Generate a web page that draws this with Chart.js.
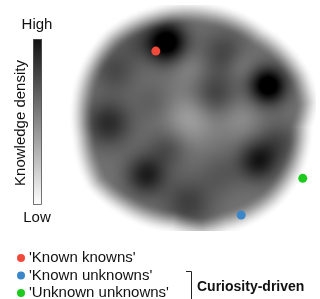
<!DOCTYPE html>
<html>
<head>
<title>Knowledge density</title>
<script src="https://cdn.jsdelivr.net/npm/chart.js"></script>
<style>
  html, body { margin: 0; padding: 0; background: #fff; overflow: hidden; }
</style>
</head>
<body>
<canvas id="knowledgeChart" width="320" height="299"></canvas>

<script>
    // the three example questions
    const pointLabels = ["'Known knowns'", "'Known unknowns'", "'Unknown unknowns'"];
    const pointX = [-0.36, 0.43, 1.0];
    const pointY = [0.65, -0.87, -0.53];
    const pointColors = ['#f24a3a', '#3b86c8', '#1fca1f'];

    // outline of the knowledge blob: radius at each angle (degrees)
    const edgeAngle = [9, 23, 53, 82, 110, 135, 159, 188, 212, 230, 258, 274, 287, 315, 335, 357];
    const edgeRadius = [1.06, 1.06, 0.99, 1.0, 1.03, 1.08, 1.07, 1.04, 1.07, 1.01, 0.95, 1.0, 0.98, 1.01, 1.01, 0.99];
    const baseDensity = 0.55;

    // dense (and sparse) patches inside the blob
    const spotX = [-0.26, 0.68, -0.80, -0.45, 0.59, 0.27, 0.18, -0.74, 0.78, -0.06, -0.25, -0.04, -0.38, 0.42, 0.24, -0.05, 0.43, -0.55];
    const spotY = [0.73, 0.33, -0.02, -0.50, -0.37, 0.63, 0.24, 0.47, -0.19, -0.76, -0.25, 0.02, 0.17, 0.02, -0.49, 0.50, 0.52, 0.72];
    const spotSize = [0.13, 0.12, 0.15, 0.13, 0.13, 0.15, 0.14, 0.14, 0.13, 0.16, 0.13, 0.17, 0.13, 0.13, 0.14, 0.12, 0.10, 0.12];
    const spotWeight = [0.55, 0.55, 0.28, 0.33, 0.35, 0.18, 0.2, 0.16, 0.15, 0.2, 0.15, -0.18, 0.08, -0.1, 0.1, -0.08, -0.08, 0.1];

    const colorbarLabels = ['High', 'Low'];
    const axisTitle = 'Knowledge density';
    const groupLabel = 'Curiosity-driven';

    const font = "'Liberation Sans', Arial, sans-serif";

    function edgeAt(deg) {
        const n = edgeAngle.length;
        let d = deg;
        if (d < edgeAngle[0]) d += 360;
        for (let i = 0; i < n; i++) {
            const a0 = edgeAngle[i];
            const a1 = i + 1 < n ? edgeAngle[i + 1] : edgeAngle[0] + 360;
            if (d >= a0 && d <= a1) {
                const r1 = i + 1 < n ? edgeRadius[i + 1] : edgeRadius[0];
                const t = (d - a0) / (a1 - a0);
                return edgeRadius[i] + t * (r1 - edgeRadius[i]);
            }
        }
        return edgeRadius[0];
    }

    function density(x, y) {
        const r = Math.sqrt(x * x + y * y);
        let deg = Math.atan2(y, x) * 180 / Math.PI;
        if (deg < 0) deg += 360;
        // soft edge that reaches white within a few pixels
        let t = (r - (edgeAt(deg) - 0.12)) / 0.24;
        t = Math.max(0, Math.min(1, t));
        const env = 1 - t * t * (3 - 2 * t);
        let d = baseDensity;
        for (let i = 0; i < spotX.length; i++) {
            const dx = x - spotX[i], dy = y - spotY[i];
            d += spotWeight[i] * Math.exp(-(dx * dx + dy * dy) / (2 * spotSize[i] * spotSize[i]));
        }
        return Math.max(0, Math.min(1, env * d));
    }

    const densityPlugin = {
        id: 'densityField',
        beforeDatasetsDraw(chart) {
            const area = chart.chartArea;
            const w = Math.round(area.right - area.left);
            const h = Math.round(area.bottom - area.top);
            const off = document.createElement('canvas');
            off.width = w;
            off.height = h;
            const octx = off.getContext('2d');
            const img = octx.createImageData(w, h);
            const sx = chart.scales.x, sy = chart.scales.y;
            for (let j = 0; j < h; j++) {
                const y = sy.getValueForPixel(area.top + j + 0.5);
                for (let i = 0; i < w; i++) {
                    const x = sx.getValueForPixel(area.left + i + 0.5);
                    const g = Math.round(255 * (1 - density(x, y)));
                    const k = (j * w + i) * 4;
                    img.data[k] = g;
                    img.data[k + 1] = g;
                    img.data[k + 2] = g;
                    img.data[k + 3] = 255;
                }
            }
            octx.putImageData(img, 0, 0);
            chart.ctx.drawImage(off, area.left, area.top);
        }
    };

    const extrasPlugin = {
        id: 'extras',
        afterDraw(chart) {
            const ctx = chart.ctx;
            ctx.save();
            // colour bar
            const grad = ctx.createLinearGradient(0, 39, 0, 205);
            grad.addColorStop(0, '#111');
            grad.addColorStop(1, '#fff');
            ctx.fillStyle = grad;
            ctx.fillRect(33, 39, 9, 166);
            ctx.strokeStyle = '#555';
            ctx.lineWidth = 0.8;
            ctx.strokeRect(33.5, 39.5, 8, 165);

            ctx.fillStyle = '#111';
            ctx.font = '15px ' + font;
            ctx.textAlign = 'center';
            ctx.textBaseline = 'middle';
            ctx.fillText(colorbarLabels[0], 37, 25);
            ctx.fillText(colorbarLabels[1], 37, 218);

            ctx.save();
            ctx.translate(21, 123);
            ctx.rotate(-Math.PI / 2);
            ctx.fillText(axisTitle, 0, 0);
            ctx.restore();

            // legend
            ctx.textAlign = 'left';
            chart.data.datasets.forEach((ds, i) => {
                const y = 258 + i * 17.5;
                ctx.fillStyle = ds.backgroundColor;
                ctx.beginPath();
                ctx.arc(21, y, 4, 0, Math.PI * 2);
                ctx.fill();
                ctx.fillStyle = '#111';
                ctx.fillText(ds.label, 29, y);
            });

            // bracket
            ctx.strokeStyle = '#222';
            ctx.lineWidth = 1;
            ctx.beginPath();
            ctx.moveTo(186, 271.5);
            ctx.lineTo(191.5, 271.5);
            ctx.lineTo(191.5, 300);
            ctx.stroke();
            ctx.font = 'bold 14px ' + font;
            ctx.fillText(groupLabel, 197, 287);
            ctx.restore();
        }
    };

    const ctx = document.getElementById('knowledgeChart').getContext('2d');
    const knowledgeChart = new Chart(ctx, {
        type: 'scatter',
        data: {
            datasets: pointLabels.map((label, i) => ({
                label: label,
                data: [{ x: pointX[i], y: pointY[i] }],
                backgroundColor: pointColors[i],
                borderWidth: 0,
                pointRadius: 4.5
            }))
        },
        options: {
            responsive: false,
            animation: false,
            layout: { padding: { left: 70, right: 0, top: 0, bottom: 69 } },
            plugins: {
                legend: { display: false },
                tooltip: { enabled: false }
            },
            scales: {
                x: { type: 'linear', min: -1.1545, max: 1.118, display: false },
                y: { type: 'linear', min: -1.009, max: 1.0818, display: false }
            }
        },
        plugins: [densityPlugin, extrasPlugin]
    });
</script>
</body>
</html>
